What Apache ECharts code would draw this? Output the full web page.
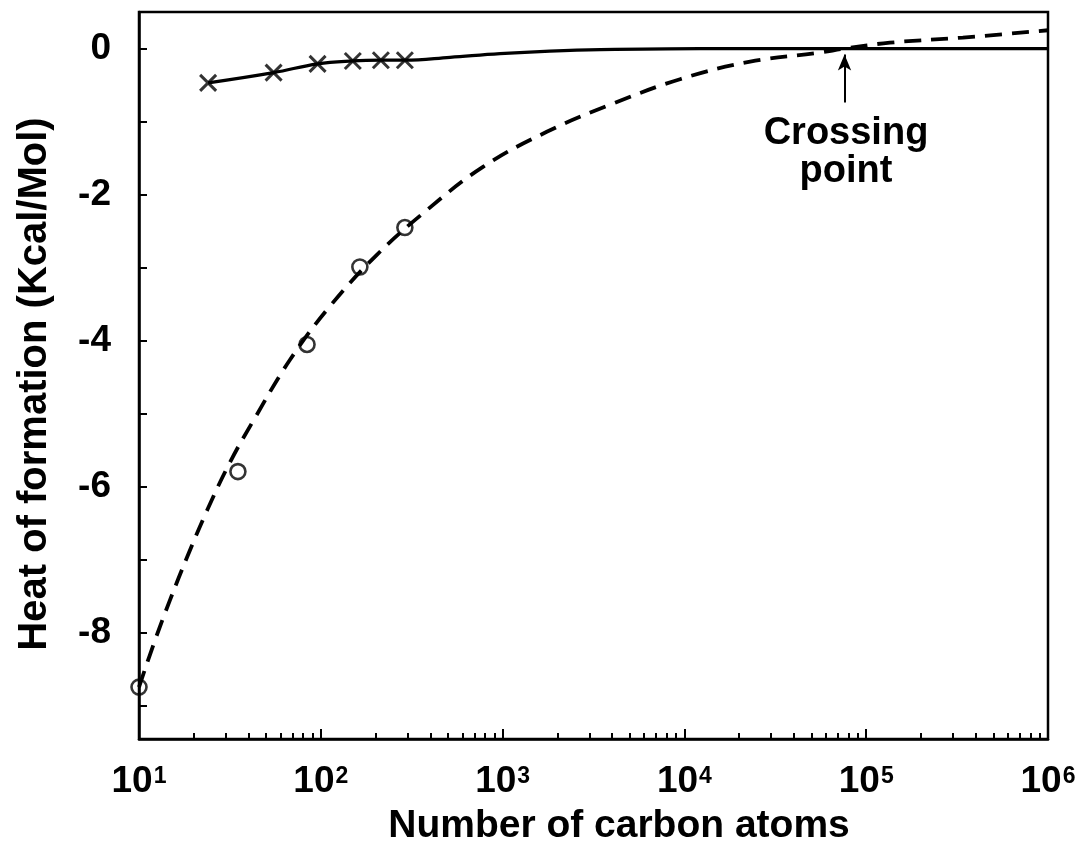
<!DOCTYPE html>
<html>
<head>
<meta charset="utf-8">
<script src="https://cdn.jsdelivr.net/npm/echarts@6/dist/echarts.min.js"></script>
<style>
html, body { margin: 0; padding: 0; background: #fff; }
#chart { width: 1081px; height: 842px; }
</style>
</head>
<body>
<div id="chart"></div>
<script>
// Heat of formation (kcal/mol) against cluster size (number of carbon atoms)

// Solid curve with "x" markers
const crossAtoms = [24, 55, 96, 150, 214, 290];
const crossHeat = [-0.47, -0.33, -0.21, -0.17, -0.16, -0.16];
const solidAtoms = [24, 55, 96, 150, 214, 290, 514, 968, 1820, 3440, 12200, 1000000];
const solidHeat = [-0.47, -0.33, -0.21, -0.17, -0.16, -0.16, -0.12, -0.07, -0.035, -0.014, 0, 0];

// Dashed curve with open-circle markers
const circleAtoms = [10, 35, 84, 164, 290];
const circleHeat = [-8.74, -5.79, -4.05, -2.99, -2.45];
const dashAtoms = [10, 12.2, 14.8, 18.4, 23.7, 31.7, 42.4, 67.7, 112, 204, 384, 780, 1750, 3900, 9460, 23000, 55700, 76000, 135000, 340000, 1000000];
const dashHeat = [-8.74, -8.11, -7.55, -6.96, -6.32, -5.66, -5.10, -4.26, -3.53, -2.82, -2.21, -1.62, -1.14, -0.77, -0.42, -0.18, -0.055, 0, 0.08, 0.15, 0.25];

// Where the two curves meet
const crossingAtoms = 76000;
const crossingArrowFrom = -0.74;
const crossingArrowTo = -0.08;

// Axis ticks and labels
const xDecadeExponents = [1, 2, 3, 4, 5, 6];
const xMinorMultipliers = [2, 3, 4, 5, 6, 7, 8, 9];
const yLabelValues = [0, -2, -4, -6, -8];
const yTickValues = [0, -1, -2, -3, -4, -5, -6, -7, -8, -9];

const FONT = '"Liberation Sans", Arial, Helvetica, sans-serif';

// x is plotted as log10(atoms) on a linear axis so decades are evenly spaced
const lg = v => Math.log10(v);
const pairs = (xs, ys) => xs.map((x, i) => [lg(x), ys[i]]);

const xMinorTicks = [];
xDecadeExponents.slice(0, -1).forEach(e => {
  xMinorMultipliers.forEach(m => xMinorTicks.push(lg(m * Math.pow(10, e))));
});

const chart = echarts.init(document.getElementById('chart'), null, { renderer: 'canvas' });

const option = {
  animation: false,
  backgroundColor: '#fff',
  grid: {
    left: 139, top: 12, right: 33, bottom: 103,
    show: true, borderColor: '#000', borderWidth: 2.5, backgroundColor: 'transparent'
  },
  xAxis: [
    {
      type: 'value',
      min: 1, max: 6, interval: 1,
      splitLine: { show: false },
      axisLine: { show: true, onZero: false, lineStyle: { color: '#000', width: 2.5 } },
      axisTick: { show: true, inside: true, length: 10, lineStyle: { color: '#000', width: 2 } },
      axisLabel: {
        margin: 21,
        showMinLabel: true, showMaxLabel: true,
        formatter: v => '{b|10}{s|' + v + '}',
        rich: {
          b: { fontFamily: FONT, fontWeight: 'bold', fontSize: 37, color: '#000', lineHeight: 40, verticalAlign: 'bottom' },
          s: { fontFamily: FONT, fontWeight: 'bold', fontSize: 23, color: '#000', lineHeight: 23, verticalAlign: 'top', padding: [5, 0, 0, 1] }
        }
      }
    },
    {
      type: 'value',
      min: 1, max: 6,
      position: 'bottom',
      splitLine: { show: false },
      axisLine: { show: false, onZero: false },
      axisLabel: { show: false },
      axisTick: {
        show: true, inside: true, length: 6,
        customValues: xMinorTicks,
        lineStyle: { color: '#000', width: 2 }
      }
    }
  ],
  yAxis: {
    type: 'value',
    min: -9.45, max: 0.5,
    splitLine: { show: false },
    axisLine: { show: true, onZero: false, lineStyle: { color: '#000', width: 2.5 } },
    axisTick: {
      show: true, inside: true, length: 8,
      customValues: yTickValues,
      lineStyle: { color: '#000', width: 2 }
    },
    axisLabel: {
      margin: 28,
      customValues: yLabelValues,
      fontFamily: FONT, fontWeight: 'bold', fontSize: 37, color: '#000'
    }
  },
  series: [
    {
      name: 'dashed fit',
      type: 'line',
      data: pairs(dashAtoms, dashHeat),
      smooth: 0.4,
      showSymbol: false,
      symbol: 'none',
      lineStyle: { color: '#000', width: 3.8, type: [17, 10] },
      silent: true,
      markLine: {
        silent: true,
        symbol: ['none', 'arrow'],
        symbolSize: [10, 16],
        label: { show: false },
        lineStyle: { color: '#000', width: 2, type: 'solid' },
        data: [[
          { coord: [lg(crossingAtoms), crossingArrowFrom] },
          { coord: [lg(crossingAtoms), crossingArrowTo] }
        ]]
      }
    },
    {
      name: 'solid fit',
      type: 'line',
      data: pairs(solidAtoms, solidHeat),
      smooth: 0.4,
      showSymbol: false,
      symbol: 'none',
      lineStyle: { color: '#000', width: 3.2 },
      silent: true
    },
    {
      name: 'circles',
      type: 'scatter',
      data: pairs(circleAtoms, circleHeat),
      symbol: 'circle',
      symbolSize: 15,
      itemStyle: { color: 'transparent', borderColor: '#000', borderWidth: 2.6 },
      silent: true
    },
    {
      name: 'crosses',
      type: 'scatter',
      data: pairs(crossAtoms, crossHeat),
      symbol: 'path://M0,0L10,10M10,0L0,10',
      symbolSize: 16,
      itemStyle: { color: 'transparent', borderColor: '#000', borderWidth: 3 },
      silent: true
    }
  ],
  graphic: [
    {
      type: 'text',
      x: 35, y: 384,
      rotation: Math.PI / 2,
      style: {
        text: 'Heat of formation (Kcal/Mol)',
        font: 'bold 40px ' + FONT,
        fill: '#000',
        textAlign: 'center',
        textVerticalAlign: 'middle'
      }
    },
    {
      type: 'text',
      x: 619, y: 826,
      style: {
        text: 'Number of carbon atoms',
        font: 'bold 39px ' + FONT,
        fill: '#000',
        textAlign: 'center',
        textVerticalAlign: 'middle'
      }
    },
    {
      type: 'text',
      x: 846, y: 115,
      style: {
        text: 'Crossing\npoint',
        font: 'bold 38px ' + FONT,
        lineHeight: 38,
        fill: '#000',
        textAlign: 'center',
        textVerticalAlign: 'top'
      }
    }
  ]
};

chart.setOption(option);
</script>
</body>
</html>
